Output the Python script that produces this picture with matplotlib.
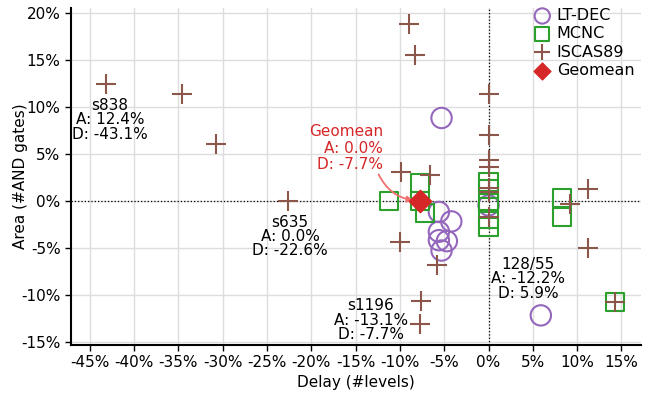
import matplotlib.pyplot as plt
from matplotlib.ticker import FuncFormatter

# LT-DEC points (delay %, area %)
ltdec_delay = [-5.3, -5.6, -4.2, -5.6, -4.7, -5.6, -5.3, 0.0, 5.9]
ltdec_area = [8.8, -1.2, -2.2, -3.3, -4.3, -4.2, -5.3, -0.5, -12.2]

# MCNC points
mcnc_delay = [-11.2, -7.7, -7.7, -7.2, 0.0, 0.0, 0.0, 0.0, 0.0, 8.3, 8.3, 14.3]
mcnc_area = [0.0, 1.9, 0.0, -1.3, 2.0, 1.2, -0.2, -1.9, -2.8, 0.3, -1.7, -10.8]

# ISCAS89 points
iscas_delay = [-43.1, -34.6, -30.7, -22.6, -9.0, -8.3, -9.9, -6.6, -10.0, -5.8,
               -7.6, -7.7, 0.0, 0.0, 0.0, 0.0, 0.0, 0.0, 0.0, 11.2, 9.2, 11.2, 14.3]
iscas_area = [12.4, 11.3, 6.0, 0.0, 18.8, 15.5, 3.1, 2.7, -4.4, -6.8,
              -10.7, -13.1, 11.3, 7.0, 4.3, 3.6, 1.3, 0.9, -1.7, 1.2, -0.4, -5.0, -10.8]

geo_delay = -7.7
geo_area = 0.0

# callout labels
callouts = ["s838\nA: 12.4%\nD: -43.1%", "s635\nA: 0.0%\nD: -22.6%",
            "s1196\nA: -13.1%\nD: -7.7%", "128/55\nA: -12.2%\nD: 5.9%"]
callout_x = [-42.7, -22.4, -13.3, 4.5]
callout_y = [8.6, -3.8, -12.7, -8.3]

xticks = list(range(-45, 20, 5))
yticks = list(range(-15, 25, 5))

plt.rcParams['font.family'] = ['DejaVu Sans']
fig = plt.figure(figsize=(6.59, 4.01), dpi=100)
ax = fig.add_axes([71 / 659, 1 - 345 / 401, 570 / 659, 337 / 401])

ax.set_xlim(-47.1, 17.2)
ax.set_ylim(-15.35, 20.5)
ax.set_xticks(xticks)
ax.set_yticks(yticks)
pct = FuncFormatter(lambda v, p: f"{v:.0f}%")
ax.xaxis.set_major_formatter(pct)
ax.yaxis.set_major_formatter(pct)
ax.grid(True, color='#dddddd', linewidth=1)
ax.set_axisbelow(True)

ax.axvline(0, color='black', linestyle=':', linewidth=0.9, zorder=1.5)
ax.axhline(0, color='black', linestyle=':', linewidth=0.9, zorder=1.5)

ax.scatter(ltdec_delay, ltdec_area, s=215, marker='o', facecolors='none',
           edgecolors='#9467bd', linewidths=1.5, label='LT-DEC', zorder=3)
ax.scatter(mcnc_delay, mcnc_area, s=170, marker='s', facecolors='none',
           edgecolors='#2ca02c', linewidths=1.5, label='MCNC', zorder=3)
ax.scatter(iscas_delay, iscas_area, s=210, marker='+', color='#8c564b',
           linewidths=1.5, label='ISCAS89', zorder=3)
ax.scatter([geo_delay], [geo_area], s=130, marker='D', color='#d62728',
           label='Geomean', zorder=4)

for txt, x, y in zip(callouts, callout_x, callout_y):
    ax.text(x, y, txt, ha='center', va='center', multialignment='center',
            fontsize=11, linespacing=0.95, zorder=5)

ax.text(-11.9, 5.6, "Geomean\nA: 0.0%\nD: -7.7%", ha='right', va='center',
        multialignment='right', fontsize=11, linespacing=1.1, color='#d62728')
ax.annotate("", xy=(geo_delay, geo_area), xytext=(-12.4, 2.8),
            arrowprops=dict(arrowstyle='-|>', color='#f07070', lw=1.3,
                            connectionstyle='arc3,rad=0.3', shrinkA=0, shrinkB=5,
                            mutation_scale=9))

for side in ['top', 'right']:
    ax.spines[side].set_visible(False)
for side in ['left', 'bottom']:
    ax.spines[side].set_linewidth(1.5)
ax.tick_params(direction='out', length=4, width=1, labelsize=11)

ax.set_xlabel('Delay (#levels)', fontsize=11, labelpad=3)
ax.set_ylabel('Area (#AND gates)', fontsize=11)
ax.yaxis.set_label_coords(-0.075, 0.5)

ax.legend(loc='upper right', bbox_to_anchor=(1.005, 1.028), frameon=False,
          fontsize=11.5, markerscale=0.75, handletextpad=0.3, labelspacing=0.2,
          borderaxespad=0.2, handlelength=1.2)

fig.savefig('out.png', dpi=100)
